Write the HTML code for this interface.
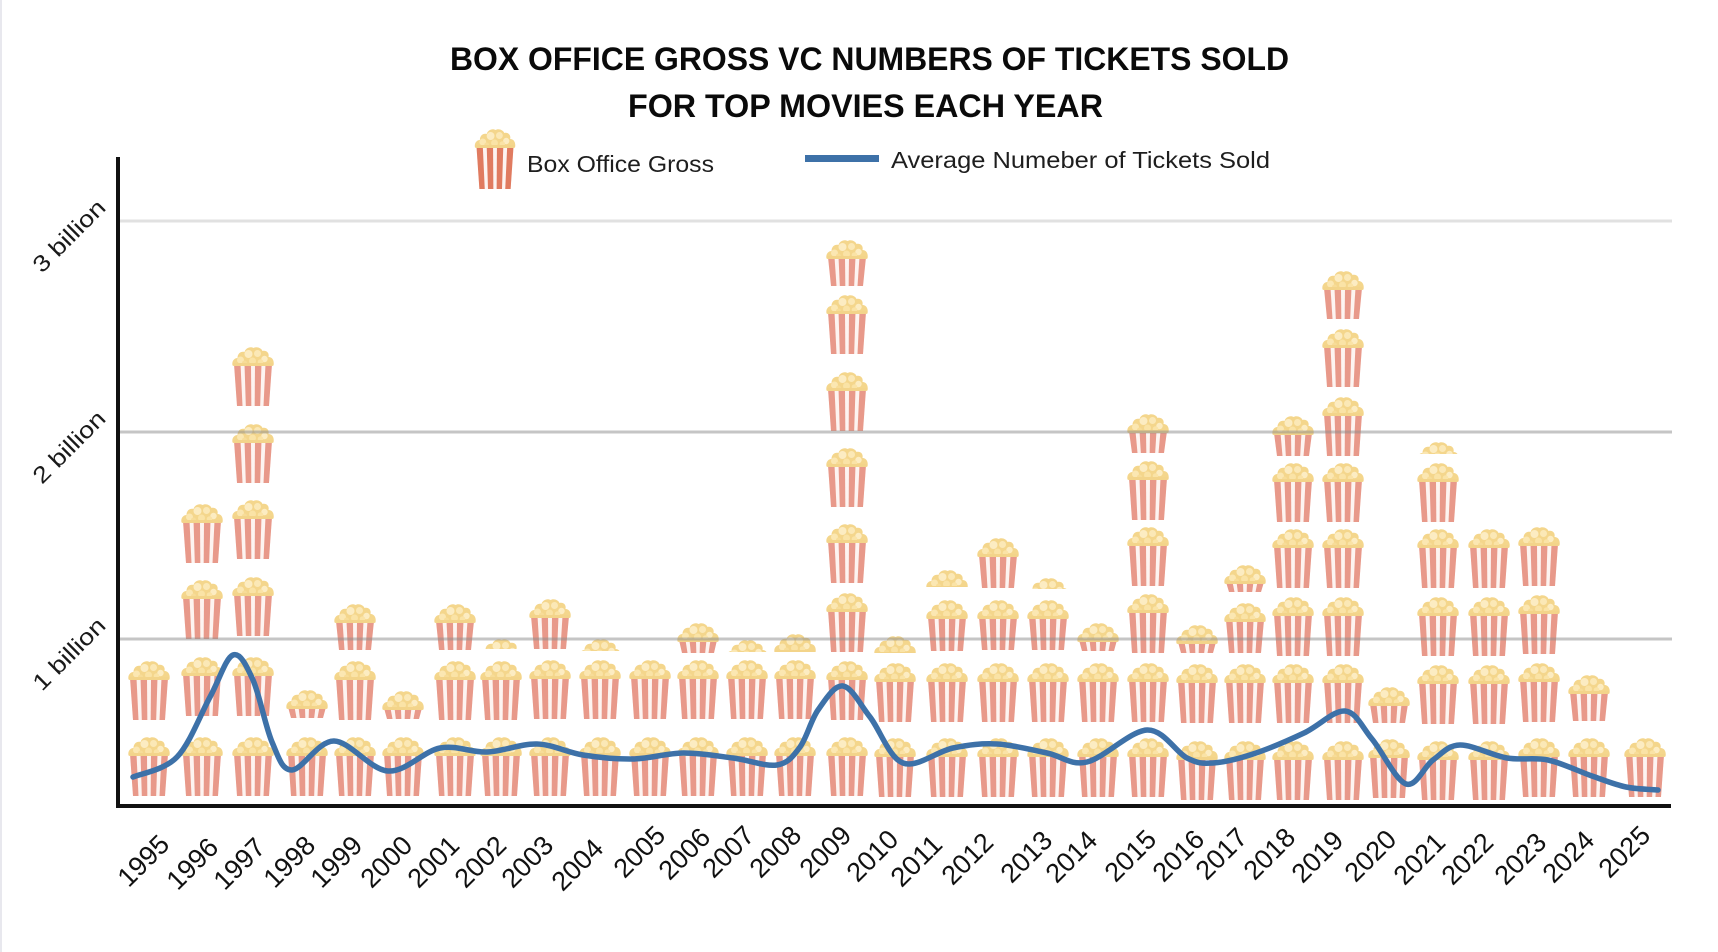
<!DOCTYPE html>
<html>
<head>
<meta charset="utf-8">
<style>
html,body{margin:0;padding:0;background:#fff;}
svg{display:block;}
text{font-family:"Liberation Sans",Arial,sans-serif;}
</style>
</head>
<body>
<svg width="1718" height="952" viewBox="0 0 1718 952" xmlns="http://www.w3.org/2000/svg">
<defs>
<symbol id="p" viewBox="0 0 43 21" preserveAspectRatio="none">
<path d="M1,19.5 C0,15 3,12 6,12 C6,7 10,5 13,6 C14,2 19,0 22,2 C25,0 30,2 31,5 C35,4 38,7 37,11 C41,11 43,15 42,19.5 Z" fill="#f4d68c"/>
<circle cx="9" cy="14" r="3.5" fill="#fbe7b2"/>
<circle cx="17" cy="8" r="4" fill="#fcecc2"/>
<circle cx="26" cy="7.5" r="3.5" fill="#fbe8b6"/>
<circle cx="33" cy="13" r="3.2" fill="#fcecc2"/>
<circle cx="21" cy="15" r="3.5" fill="#fae3a6"/>
<circle cx="13" cy="17" r="2.5" fill="#f7dc98"/>
<circle cx="29" cy="16" r="2.8" fill="#fae3a6"/>
<rect x="1" y="17" width="41" height="3" rx="1.5" fill="#f3d48a"/>
</symbol>
<symbol id="b" viewBox="0 0 43 42" preserveAspectRatio="none">
<polygon points="2.5,0 40.5,0 37.5,42 5.5,42" fill="#fdf4f1"/>
<g fill="currentColor">
<polygon points="2.5,0 9,0 11,42 5.5,42"/>
<polygon points="13,0 19.5,0 19.83,42 14.33,42"/>
<polygon points="23.5,0 30,0 28.67,42 23.17,42"/>
<polygon points="34,0 40.5,0 37.5,42 32,42"/>
</g>
</symbol>
</defs>

<rect x="0" y="0" width="1718" height="952" fill="#ffffff"/>
<rect x="0" y="0" width="2" height="952" fill="#e8e8ee"/>

<!-- Title -->
<text x="450" y="70" font-size="32" font-weight="bold" fill="#0a0a0a" textLength="839" lengthAdjust="spacingAndGlyphs">BOX OFFICE GROSS VC NUMBERS OF TICKETS SOLD</text>
<text x="628" y="117" font-size="32" font-weight="bold" fill="#0a0a0a" textLength="475" lengthAdjust="spacingAndGlyphs">FOR TOP MOVIES EACH YEAR</text>

<!-- Legend -->
<g style="color:#e07b60">
<use href="#b" x="474" y="146" width="42" height="43"/>
<use href="#p" x="474" y="128" width="42" height="21"/>
</g>
<text x="527" y="172" font-size="23" fill="#1e1e1e" textLength="187" lengthAdjust="spacingAndGlyphs">Box Office Gross</text>
<rect x="805" y="155" width="74" height="7" fill="#3d71a8"/>
<text x="891" y="168" font-size="23" fill="#1e1e1e" textLength="379" lengthAdjust="spacingAndGlyphs">Average Numeber of Tickets Sold</text>

<!-- Icons -->
<g style="color:#e8998a">
<g transform="translate(127.5,0)">
<use href="#b" y="754" width="43" height="42"/><use href="#p" y="736" width="43" height="21"/>
<use href="#b" y="678" width="43" height="42"/><use href="#p" y="660" width="43" height="21"/>
</g>
<g transform="translate(180.5,0)">
<use href="#b" y="754" width="43" height="42"/><use href="#p" y="736" width="43" height="21"/>
<use href="#b" y="674" width="43" height="42"/><use href="#p" y="656" width="43" height="21"/>
<use href="#b" y="597" width="43" height="42"/><use href="#p" y="579" width="43" height="21"/>
<use href="#b" y="521" width="43" height="42"/><use href="#p" y="503" width="43" height="21"/>
</g>
<g transform="translate(231.5,0)">
<use href="#b" y="754" width="43" height="42"/><use href="#p" y="736" width="43" height="21"/>
<use href="#b" y="674" width="43" height="42"/><use href="#p" y="656" width="43" height="21"/>
<use href="#b" y="594" width="43" height="42"/><use href="#p" y="576" width="43" height="21"/>
<use href="#b" y="517" width="43" height="42"/><use href="#p" y="499" width="43" height="21"/>
<use href="#b" y="441" width="43" height="42"/><use href="#p" y="423" width="43" height="21"/>
<use href="#b" y="364" width="43" height="42"/><use href="#p" y="346" width="43" height="21"/>
</g>
<g transform="translate(285.5,0)">
<use href="#b" y="754" width="43" height="42"/><use href="#p" y="736" width="43" height="21"/>
<use href="#b" y="707" width="43" height="11"/><use href="#p" y="689" width="43" height="21"/>
</g>
<g transform="translate(333.5,0)">
<use href="#b" y="754" width="43" height="42"/><use href="#p" y="736" width="43" height="21"/>
<use href="#b" y="678" width="43" height="42"/><use href="#p" y="660" width="43" height="21"/>
<use href="#b" y="621" width="43" height="29"/><use href="#p" y="603" width="43" height="21"/>
</g>
<g transform="translate(381.5,0)">
<use href="#b" y="754" width="43" height="42"/><use href="#p" y="736" width="43" height="21"/>
<use href="#b" y="708" width="43" height="11"/><use href="#p" y="690" width="43" height="21"/>
</g>
<g transform="translate(433.5,0)">
<use href="#b" y="754" width="43" height="42"/><use href="#p" y="736" width="43" height="21"/>
<use href="#b" y="678" width="43" height="42"/><use href="#p" y="660" width="43" height="21"/>
<use href="#b" y="621" width="43" height="29"/><use href="#p" y="603" width="43" height="21"/>
</g>
<g transform="translate(479.5,0)">
<use href="#b" y="754" width="43" height="42"/><use href="#p" y="736" width="43" height="21"/>
<use href="#b" y="678" width="43" height="42"/><use href="#p" y="660" width="43" height="21"/>
<svg y="638" width="43" height="11"><use href="#p" width="43" height="21"/></svg>
</g>
<g transform="translate(528.5,0)">
<use href="#b" y="754" width="43" height="42"/><use href="#p" y="736" width="43" height="21"/>
<use href="#b" y="677" width="43" height="42"/><use href="#p" y="659" width="43" height="21"/>
<use href="#b" y="616" width="43" height="33"/><use href="#p" y="598" width="43" height="21"/>
</g>
<g transform="translate(578.5,0)">
<use href="#b" y="754" width="43" height="42"/><use href="#p" y="736" width="43" height="21"/>
<use href="#b" y="677" width="43" height="42"/><use href="#p" y="659" width="43" height="21"/>
<svg y="638" width="43" height="13"><use href="#p" width="43" height="21"/></svg>
</g>
<g transform="translate(628.5,0)">
<use href="#b" y="754" width="43" height="42"/><use href="#p" y="736" width="43" height="21"/>
<use href="#b" y="677" width="43" height="42"/><use href="#p" y="659" width="43" height="21"/>
</g>
<g transform="translate(676.5,0)">
<use href="#b" y="754" width="43" height="42"/><use href="#p" y="736" width="43" height="21"/>
<use href="#b" y="677" width="43" height="42"/><use href="#p" y="659" width="43" height="21"/>
<use href="#b" y="640" width="43" height="13"/><use href="#p" y="622" width="43" height="21"/>
</g>
<g transform="translate(725.5,0)">
<use href="#b" y="754" width="43" height="42"/><use href="#p" y="736" width="43" height="21"/>
<use href="#b" y="677" width="43" height="42"/><use href="#p" y="659" width="43" height="21"/>
<svg y="639" width="43" height="13"><use href="#p" width="43" height="21"/></svg>
</g>
<g transform="translate(773.5,0)">
<use href="#b" y="754" width="43" height="42"/><use href="#p" y="736" width="43" height="21"/>
<use href="#b" y="677" width="43" height="42"/><use href="#p" y="659" width="43" height="21"/>
<svg y="633" width="43" height="19"><use href="#p" width="43" height="21"/></svg>
</g>
<g transform="translate(825.5,0)">
<use href="#b" y="754" width="43" height="42"/><use href="#p" y="736" width="43" height="21"/>
<use href="#b" y="678" width="43" height="42"/><use href="#p" y="660" width="43" height="21"/>
<use href="#b" y="610" width="43" height="42"/><use href="#p" y="592" width="43" height="21"/>
<use href="#b" y="541" width="43" height="42"/><use href="#p" y="523" width="43" height="21"/>
<use href="#b" y="465" width="43" height="42"/><use href="#p" y="447" width="43" height="21"/>
<use href="#b" y="389" width="43" height="42"/><use href="#p" y="371" width="43" height="21"/>
<use href="#b" y="312" width="43" height="42"/><use href="#p" y="294" width="43" height="21"/>
<use href="#b" y="257" width="43" height="29"/><use href="#p" y="239" width="43" height="21"/>
</g>
<g transform="translate(873.5,0)">
<use href="#b" y="755" width="43" height="42"/><use href="#p" y="737" width="43" height="21"/>
<use href="#b" y="680" width="43" height="42"/><use href="#p" y="662" width="43" height="21"/>
<svg y="635" width="43" height="18"><use href="#p" width="43" height="21"/></svg>
</g>
<g transform="translate(925.5,0)">
<use href="#b" y="755" width="43" height="42"/><use href="#p" y="737" width="43" height="21"/>
<use href="#b" y="680" width="43" height="42"/><use href="#p" y="662" width="43" height="21"/>
<use href="#b" y="617" width="43" height="34"/><use href="#p" y="599" width="43" height="21"/>
<svg y="569" width="43" height="18"><use href="#p" width="43" height="21"/></svg>
</g>
<g transform="translate(976.5,0)">
<use href="#b" y="755" width="43" height="42"/><use href="#p" y="737" width="43" height="21"/>
<use href="#b" y="680" width="43" height="42"/><use href="#p" y="662" width="43" height="21"/>
<use href="#b" y="617" width="43" height="33"/><use href="#p" y="599" width="43" height="21"/>
<use href="#b" y="555" width="43" height="33"/><use href="#p" y="537" width="43" height="21"/>
</g>
<g transform="translate(1026.5,0)">
<use href="#b" y="755" width="43" height="42"/><use href="#p" y="737" width="43" height="21"/>
<use href="#b" y="680" width="43" height="42"/><use href="#p" y="662" width="43" height="21"/>
<use href="#b" y="617" width="43" height="33"/><use href="#p" y="599" width="43" height="21"/>
<svg y="577" width="43" height="12"><use href="#p" width="43" height="21"/></svg>
</g>
<g transform="translate(1076.5,0)">
<use href="#b" y="755" width="43" height="42"/><use href="#p" y="737" width="43" height="21"/>
<use href="#b" y="680" width="43" height="42"/><use href="#p" y="662" width="43" height="21"/>
<use href="#b" y="640" width="43" height="11"/><use href="#p" y="622" width="43" height="21"/>
</g>
<g transform="translate(1126.5,0)">
<use href="#b" y="755" width="43" height="42"/><use href="#p" y="737" width="43" height="21"/>
<use href="#b" y="680" width="43" height="42"/><use href="#p" y="662" width="43" height="21"/>
<use href="#b" y="611" width="43" height="42"/><use href="#p" y="593" width="43" height="21"/>
<use href="#b" y="544" width="43" height="42"/><use href="#p" y="526" width="43" height="21"/>
<use href="#b" y="478" width="43" height="42"/><use href="#p" y="460" width="43" height="21"/>
<use href="#b" y="431" width="43" height="22"/><use href="#p" y="413" width="43" height="21"/>
</g>
<g transform="translate(1175.5,0)">
<use href="#b" y="758" width="43" height="42"/><use href="#p" y="740" width="43" height="21"/>
<use href="#b" y="681" width="43" height="42"/><use href="#p" y="663" width="43" height="21"/>
<use href="#b" y="642" width="43" height="11"/><use href="#p" y="624" width="43" height="21"/>
</g>
<g transform="translate(1223.5,0)">
<use href="#b" y="758" width="43" height="42"/><use href="#p" y="740" width="43" height="21"/>
<use href="#b" y="681" width="43" height="42"/><use href="#p" y="663" width="43" height="21"/>
<use href="#b" y="620" width="43" height="33"/><use href="#p" y="602" width="43" height="21"/>
<use href="#b" y="582" width="43" height="10"/><use href="#p" y="564" width="43" height="21"/>
</g>
<g transform="translate(1271.5,0)">
<use href="#b" y="758" width="43" height="42"/><use href="#p" y="740" width="43" height="21"/>
<use href="#b" y="681" width="43" height="42"/><use href="#p" y="663" width="43" height="21"/>
<use href="#b" y="614" width="43" height="42"/><use href="#p" y="596" width="43" height="21"/>
<use href="#b" y="546" width="43" height="42"/><use href="#p" y="528" width="43" height="21"/>
<use href="#b" y="480" width="43" height="42"/><use href="#p" y="462" width="43" height="21"/>
<use href="#b" y="433" width="43" height="23"/><use href="#p" y="415" width="43" height="21"/>
</g>
<g transform="translate(1321.5,0)">
<use href="#b" y="758" width="43" height="42"/><use href="#p" y="740" width="43" height="21"/>
<use href="#b" y="681" width="43" height="42"/><use href="#p" y="663" width="43" height="21"/>
<use href="#b" y="614" width="43" height="42"/><use href="#p" y="596" width="43" height="21"/>
<use href="#b" y="546" width="43" height="42"/><use href="#p" y="528" width="43" height="21"/>
<use href="#b" y="480" width="43" height="42"/><use href="#p" y="462" width="43" height="21"/>
<use href="#b" y="414" width="43" height="42"/><use href="#p" y="396" width="43" height="21"/>
<use href="#b" y="346" width="43" height="41"/><use href="#p" y="328" width="43" height="21"/>
<use href="#b" y="288" width="43" height="31"/><use href="#p" y="270" width="43" height="21"/>
</g>
<g transform="translate(1367.5,0)">
<use href="#b" y="756" width="43" height="42"/><use href="#p" y="738" width="43" height="21"/>
<use href="#b" y="704" width="43" height="19"/><use href="#p" y="686" width="43" height="21"/>
</g>
<g transform="translate(1416.5,0)">
<use href="#b" y="758" width="43" height="42"/><use href="#p" y="740" width="43" height="21"/>
<use href="#b" y="682" width="43" height="42"/><use href="#p" y="664" width="43" height="21"/>
<use href="#b" y="614" width="43" height="42"/><use href="#p" y="596" width="43" height="21"/>
<use href="#b" y="546" width="43" height="42"/><use href="#p" y="528" width="43" height="21"/>
<use href="#b" y="480" width="43" height="42"/><use href="#p" y="462" width="43" height="21"/>
<svg y="441" width="43" height="13"><use href="#p" width="43" height="21"/></svg>
</g>
<g transform="translate(1467.5,0)">
<use href="#b" y="758" width="43" height="42"/><use href="#p" y="740" width="43" height="21"/>
<use href="#b" y="682" width="43" height="42"/><use href="#p" y="664" width="43" height="21"/>
<use href="#b" y="614" width="43" height="42"/><use href="#p" y="596" width="43" height="21"/>
<use href="#b" y="546" width="43" height="42"/><use href="#p" y="528" width="43" height="21"/>
</g>
<g transform="translate(1517.5,0)">
<use href="#b" y="755" width="43" height="42"/><use href="#p" y="737" width="43" height="21"/>
<use href="#b" y="680" width="43" height="42"/><use href="#p" y="662" width="43" height="21"/>
<use href="#b" y="612" width="43" height="42"/><use href="#p" y="594" width="43" height="21"/>
<use href="#b" y="544" width="43" height="42"/><use href="#p" y="526" width="43" height="21"/>
</g>
<g transform="translate(1567.5,0)">
<use href="#b" y="755" width="43" height="42"/><use href="#p" y="737" width="43" height="21"/>
<use href="#b" y="692" width="43" height="29"/><use href="#p" y="674" width="43" height="21"/>
</g>
<g transform="translate(1623.5,0)">
<use href="#b" y="755" width="43" height="42"/><use href="#p" y="737" width="43" height="21"/>
</g>
</g>

<!-- Gridlines -->
<line x1="120" y1="221" x2="1672" y2="221" stroke="#9a9a9a" stroke-opacity="0.3" stroke-width="3"/>
<line x1="120" y1="432" x2="1672" y2="432" stroke="#8c8c8c" stroke-opacity="0.5" stroke-width="3"/>
<line x1="120" y1="639" x2="1672" y2="639" stroke="#8c8c8c" stroke-opacity="0.5" stroke-width="3"/>

<!-- Axes -->
<line x1="118" y1="157" x2="118" y2="808" stroke="#111" stroke-width="4"/>
<line x1="116" y1="806" x2="1671" y2="806" stroke="#111" stroke-width="4"/>

<!-- Line series -->
<path d="M133,777 C140.3,773.7 164.2,770.3 177,757 S200.7,714 210,697 S225.8,657.8 233,655 S246.5,665.5 253,680 S265.5,727 272,742 S281.7,770.2 292,770 S318,740.8 334,741 S370.3,769.8 388,771 S423.5,751.2 440,748 S470.8,752.7 487,752 S521,743.5 537,744 S567,752.5 583,755 S616.3,759.3 633,759 S666.3,753.2 683,753 S717.3,756 733,758 S765.8,766.8 777,765 S793.2,756.2 800,747 S810.8,720.2 818,710 S834.3,684.8 843,686 S860,704.2 870,717 S889.2,757.8 903,763 S937.3,751.2 953,748 S981.3,743.2 997,744 S1032,750 1047,753 S1070.3,765.8 1087,762 S1130.3,730.7 1147,730 S1176,752.5 1187,758 S1202,763.7 1213,763 S1237.8,759 1253,754 S1288.7,740.2 1304,733 S1333.7,710 1345,711 S1361.8,726.8 1372,739 S1395.8,780.5 1406,784 S1424,766.5 1433,760 S1447.7,745.3 1460,745 S1492.3,755.5 1507,758 S1533.8,757 1548,760 S1579,771.5 1592,776 S1615,784.7 1626,787 S1652.7,789.5 1658,790" fill="none" stroke="#3d71a8" stroke-width="5.5" stroke-linecap="round" stroke-linejoin="round"/>

<!-- Y labels -->
<g font-size="23" fill="#1a1a1a" text-anchor="end">
<text transform="translate(107,209) rotate(-45)" textLength="92" lengthAdjust="spacingAndGlyphs">3 billion</text>
<text transform="translate(107,420) rotate(-45)" textLength="92" lengthAdjust="spacingAndGlyphs">2 billion</text>
<text transform="translate(107,627) rotate(-45)" textLength="92" lengthAdjust="spacingAndGlyphs">1 billion</text>
</g>

<!-- X labels -->
<g font-size="27" fill="#111" text-anchor="end">
<text transform="translate(171,846) rotate(-45)" textLength="60" lengthAdjust="spacingAndGlyphs">1995</text>
<text transform="translate(220,849) rotate(-45)" textLength="60" lengthAdjust="spacingAndGlyphs">1996</text>
<text transform="translate(267,849) rotate(-45)" textLength="60" lengthAdjust="spacingAndGlyphs">1997</text>
<text transform="translate(317,847) rotate(-45)" textLength="60" lengthAdjust="spacingAndGlyphs">1998</text>
<text transform="translate(364,847) rotate(-45)" textLength="60" lengthAdjust="spacingAndGlyphs">1999</text>
<text transform="translate(414,847) rotate(-45)" textLength="60" lengthAdjust="spacingAndGlyphs">2000</text>
<text transform="translate(461,847) rotate(-45)" textLength="60" lengthAdjust="spacingAndGlyphs">2001</text>
<text transform="translate(508,847) rotate(-45)" textLength="60" lengthAdjust="spacingAndGlyphs">2002</text>
<text transform="translate(555,847) rotate(-45)" textLength="60" lengthAdjust="spacingAndGlyphs">2003</text>
<text transform="translate(605,850) rotate(-45)" textLength="60" lengthAdjust="spacingAndGlyphs">2004</text>
<text transform="translate(667,837) rotate(-45)" textLength="60" lengthAdjust="spacingAndGlyphs">2005</text>
<text transform="translate(712,839) rotate(-45)" textLength="60" lengthAdjust="spacingAndGlyphs">2006</text>
<text transform="translate(756,837) rotate(-45)" textLength="60" lengthAdjust="spacingAndGlyphs">2007</text>
<text transform="translate(803,837) rotate(-45)" textLength="60" lengthAdjust="spacingAndGlyphs">2008</text>
<text transform="translate(853,837) rotate(-45)" textLength="60" lengthAdjust="spacingAndGlyphs">2009</text>
<text transform="translate(900,841) rotate(-45)" textLength="60" lengthAdjust="spacingAndGlyphs">2010</text>
<text transform="translate(944,846) rotate(-45)" textLength="60" lengthAdjust="spacingAndGlyphs">2011</text>
<text transform="translate(995,844) rotate(-45)" textLength="60" lengthAdjust="spacingAndGlyphs">2012</text>
<text transform="translate(1054,842) rotate(-45)" textLength="60" lengthAdjust="spacingAndGlyphs">2013</text>
<text transform="translate(1099,842) rotate(-45)" textLength="60" lengthAdjust="spacingAndGlyphs">2014</text>
<text transform="translate(1158,841) rotate(-45)" textLength="60" lengthAdjust="spacingAndGlyphs">2015</text>
<text transform="translate(1206,841) rotate(-45)" textLength="60" lengthAdjust="spacingAndGlyphs">2016</text>
<text transform="translate(1249,839) rotate(-45)" textLength="60" lengthAdjust="spacingAndGlyphs">2017</text>
<text transform="translate(1297,839) rotate(-45)" textLength="60" lengthAdjust="spacingAndGlyphs">2018</text>
<text transform="translate(1345,842) rotate(-45)" textLength="60" lengthAdjust="spacingAndGlyphs">2019</text>
<text transform="translate(1398,841) rotate(-45)" textLength="60" lengthAdjust="spacingAndGlyphs">2020</text>
<text transform="translate(1447,844) rotate(-45)" textLength="60" lengthAdjust="spacingAndGlyphs">2021</text>
<text transform="translate(1495,844) rotate(-45)" textLength="60" lengthAdjust="spacingAndGlyphs">2022</text>
<text transform="translate(1548,844) rotate(-45)" textLength="60" lengthAdjust="spacingAndGlyphs">2023</text>
<text transform="translate(1596,842) rotate(-45)" textLength="60" lengthAdjust="spacingAndGlyphs">2024</text>
<text transform="translate(1652,837) rotate(-45)" textLength="60" lengthAdjust="spacingAndGlyphs">2025</text>
</g>
</svg>
</body>
</html>
